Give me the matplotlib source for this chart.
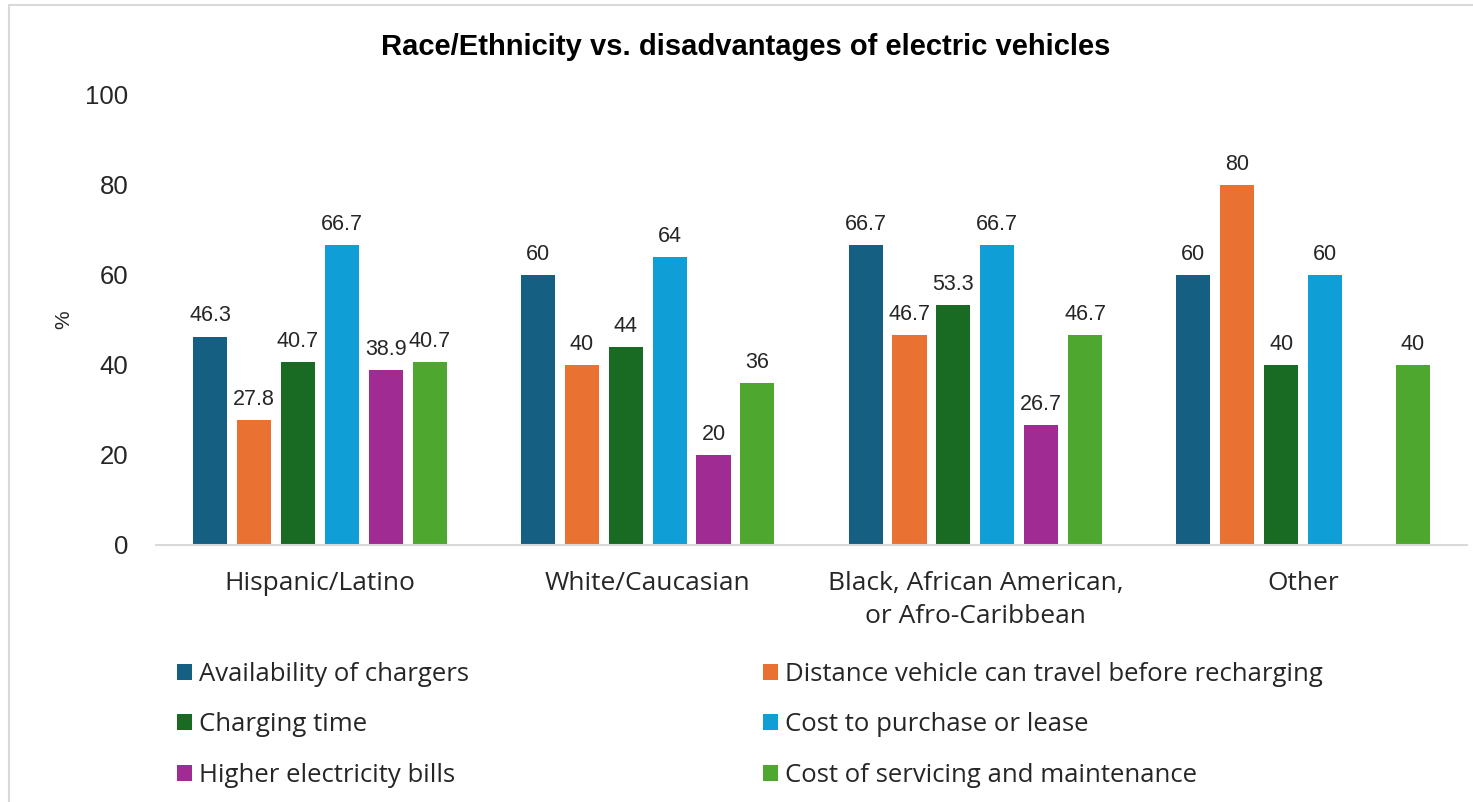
import matplotlib
matplotlib.use("Agg")
import matplotlib.pyplot as plt
import numpy as np
from matplotlib.patches import Rectangle

groups = ["Hispanic/Latino", "White/Caucasian",
          "Black, African American,\nor Afro-Caribbean", "Other"]
series = ["Availability of chargers",
          "Distance vehicle can travel before recharging",
          "Charging time",
          "Cost to purchase or lease",
          "Higher electricity bills",
          "Cost of servicing and maintenance"]
availability = [46.3, 60, 66.7, 60]
distance = [27.8, 40, 46.7, 80]
charging_time = [40.7, 44, 53.3, 40]
cost_purchase = [66.7, 64, 66.7, 60]
electricity_bills = [38.9, 20, 26.7, np.nan]
servicing = [40.7, 36, 46.7, 40]
values = [availability, distance, charging_time, cost_purchase,
          electricity_bills, servicing]
colors = ["#156082", "#E97132", "#196B24", "#0F9ED5", "#A02B93", "#4EA72E"]

W, H = 1473, 802
fig = plt.figure(figsize=(W / 100, H / 100), dpi=100)
ax = fig.add_axes([156 / W, 1 - 545 / H, (1467 - 156) / W, (545 - 95) / H])

num_font = "Liberation Sans"
txt_font = "Open Sans"
dark = "#262626"

x = np.arange(len(groups))
step = 0.134
width = 0.104
handles = []
for i, (name, vals, col) in enumerate(zip(series, values, colors)):
    pos = x + (i - 2.5) * step
    bars = ax.bar(pos, vals, width, color=col, label=name)
    handles.append(bars)
    for p, v in zip(pos, vals):
        if np.isnan(v):
            continue
        ax.annotate(f"{v:g}", (p, v), xytext=(0, 11), textcoords="offset points",
                    ha="center", va="baseline", fontsize=15.5,
                    family=num_font, color=dark)

ax.set_xlim(-0.5, 3.5)
ax.set_ylim(0, 100)
ax.set_yticks(range(0, 101, 20))
ax.set_xticks(x)
ax.set_xticklabels(groups, family=txt_font, fontsize=19, color=dark,
                   linespacing=1.4)
for lab in ax.get_yticklabels():
    lab.set_family(num_font)
    lab.set_fontsize(18.5)
    lab.set_color(dark)
ax.tick_params(axis="both", length=0)
ax.tick_params(axis="y", pad=20)
ax.tick_params(axis="x", pad=19)
for s in ["top", "right", "left"]:
    ax.spines[s].set_visible(False)
ax.spines["bottom"].set_color("#d9d9d9")
ax.spines["bottom"].set_linewidth(1.5)

ax.set_ylabel("%", family=num_font, fontsize=15, color=dark, labelpad=8.5)

fig.text(746 / W, 1 - 55 / H, "Race/Ethnicity vs. disadvantages of electric vehicles",
         ha="center", va="baseline", fontsize=21, fontweight="bold",
         family=num_font, color="#000000")

order_left = [0, 2, 4]
order_right = [1, 3, 5]
leg_kw = dict(frameon=False, loc="upper left", borderpad=0, borderaxespad=0,
              handlelength=0.58, handleheight=0.58, handletextpad=0.27,
              labelspacing=0.99, prop={"family": txt_font, "size": 18.5})
leg1 = fig.legend([handles[i] for i in order_left], [series[i] for i in order_left],
                  bbox_to_anchor=(177 / W, 1 - 662 / H), **leg_kw)
leg2 = fig.legend([handles[i] for i in order_right], [series[i] for i in order_right],
                  bbox_to_anchor=(763 / W, 1 - 662 / H), **leg_kw)
for leg in (leg1, leg2):
    for t in leg.get_texts():
        t.set_color(dark)

fig.patches.append(Rectangle((9 / W, -0.1), 1.2, 0.1 + (H - 5) / H,
                             transform=fig.transFigure, fill=False,
                             edgecolor="#d9d9d9", linewidth=1.5))

fig.savefig("out.png", dpi=100)
